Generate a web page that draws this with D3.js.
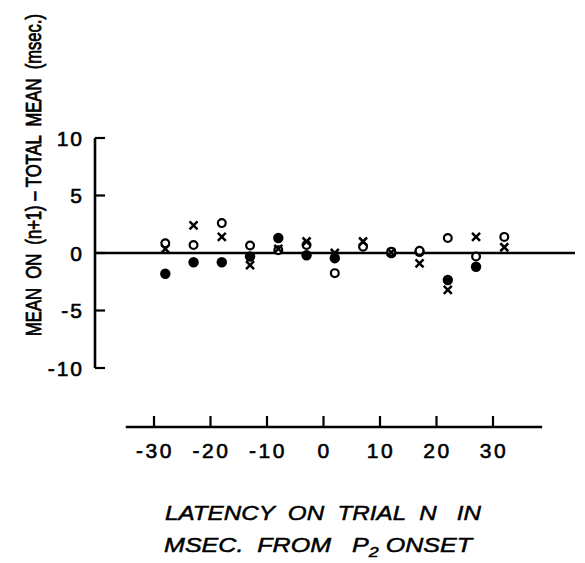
<!DOCTYPE html>
<html>
<head>
<meta charset="utf-8">
<script src="https://cdn.jsdelivr.net/npm/d3@7"></script>
<style>
  body { margin: 0; background: #fff; }
  svg { display: block; }
  text { font-family: "Liberation Sans", Arial, sans-serif; fill: #000; white-space: pre; }
</style>
</head>
<body>
<div id="chart"></div>
<script>
// latency bins on trial n (msec from P2 onset)
const latency = [-28, -23, -18, -13, -8, -3, 2, 7, 12, 17, 22, 27, 32];
// mean on (n+1) - total mean (msec), three series
const openVals   = [0.85, 0.7, 2.6, 0.65, 0.25, 0.7, -1.75, 0.55, 0.1, 0.2, 1.3, -0.3, 1.4];
const filledVals = [-1.8, -0.8, -0.8, -0.3, 1.3, -0.2, -0.45, null, 0.0, 0.1, -2.35, -1.2, null];
const crossVals  = [0.35, 2.4, 1.4, -1.05, 0.35, 1.0, 0.0, 1.0, 0.05, -0.9, -3.2, 1.4, 0.5];
const xTicks = [-30, -20, -10, 0, 10, 20, 30];
const yTicks = [-10, -5, 0, 5, 10];

const width = 585, height = 563;

function drawChart() {
    const svg = d3.select("#chart")
        .append("svg")
        .attr("width", width)
        .attr("height", height);

    const x = d3.scaleLinear().domain([-30, 30]).range([154, 493]);
    const y = d3.scaleLinear().domain([-10, 10]).range([368, 138]);
    const yAxisX = 95;
    const xAxisY = 427;

    // y axis: vertical line with right-pointing ticks
    svg.append("line")
        .attr("x1", yAxisX).attr("x2", yAxisX)
        .attr("y1", y(10)).attr("y2", y(-10))
        .attr("stroke", "#000").attr("stroke-width", 2.6);
    svg.selectAll(".ytick")
        .data(yTicks)
        .enter()
        .append("line")
        .attr("x1", yAxisX).attr("x2", yAxisX + 10)
        .attr("y1", d => y(d)).attr("y2", d => y(d))
        .attr("stroke", "#000").attr("stroke-width", 2.2);
    svg.selectAll(".ylabel")
        .data(yTicks)
        .enter()
        .append("text")
        .attr("x", 84)
        .attr("y", d => y(d))
        .attr("dy", "0.36em")
        .attr("text-anchor", "end")
        .style("font-size", "21px")
        .style("letter-spacing", "2px")
        .attr("stroke", "#000").attr("stroke-width", 0.6)
        .text(d => d < 0 ? "-" + Math.abs(d) : d);

    // zero reference line
    svg.append("line")
        .attr("x1", yAxisX).attr("x2", 575)
        .attr("y1", y(0)).attr("y2", y(0))
        .attr("stroke", "#000").attr("stroke-width", 2.6);

    // separate x axis below, ticks pointing up
    svg.append("line")
        .attr("x1", x(-35)).attr("x2", x(38.7))
        .attr("y1", xAxisY).attr("y2", xAxisY)
        .attr("stroke", "#000").attr("stroke-width", 2.6);
    svg.selectAll(".xtick")
        .data(xTicks)
        .enter()
        .append("line")
        .attr("x1", d => x(d)).attr("x2", d => x(d))
        .attr("y1", xAxisY).attr("y2", xAxisY - 11)
        .attr("stroke", "#000").attr("stroke-width", 2.2);
    svg.selectAll(".xlabel")
        .data(xTicks)
        .enter()
        .append("text")
        .attr("x", d => x(d) + 1)
        .attr("y", 458)
        .attr("text-anchor", "middle")
        .style("font-size", "21px")
        .style("letter-spacing", "2.5px")
        .attr("stroke", "#000").attr("stroke-width", 0.6)
        .text(d => d < 0 ? "-" + Math.abs(d) : d);

    // filled circles
    svg.selectAll(".filled")
        .data(latency.map((l, i) => ({l: l, v: filledVals[i]})).filter(d => d.v !== null))
        .enter()
        .append("circle")
        .attr("cx", d => x(d.l))
        .attr("cy", d => y(d.v))
        .attr("r", 5.2)
        .attr("fill", "#000");

    // open circles
    svg.selectAll(".open")
        .data(latency.map((l, i) => ({l: l, v: openVals[i]})).filter(d => d.v !== null))
        .enter()
        .append("circle")
        .attr("cx", d => x(d.l))
        .attr("cy", d => y(d.v))
        .attr("r", 3.9)
        .attr("fill", "#fff")
        .attr("stroke", "#000")
        .attr("stroke-width", 2.2);

    // crosses
    const s = 4;
    svg.selectAll(".cross")
        .data(latency.map((l, i) => ({l: l, v: crossVals[i]})).filter(d => d.v !== null))
        .enter()
        .append("path")
        .attr("d", d => {
            const cx = x(d.l), cy = y(d.v);
            return `M${cx - s},${cy - s}L${cx + s},${cy + s}M${cx + s},${cy - s}L${cx - s},${cy + s}`;
        })
        .attr("stroke", "#000")
        .attr("stroke-width", 2.5)
        .attr("fill", "none");

    // x title, two lines
    svg.append("text")
        .attr("x", 323).attr("y", 520)
        .attr("text-anchor", "middle")
        .style("font-size", "21px")
        .style("font-style", "italic")
        .attr("stroke", "#000").attr("stroke-width", 0.5)
        .attr("textLength", 316)
        .attr("lengthAdjust", "spacingAndGlyphs")
        .text("LATENCY  ON  TRIAL  N   IN");
    const t2 = svg.append("text")
        .attr("x", 318).attr("y", 552)
        .attr("text-anchor", "middle")
        .style("font-size", "21px")
        .style("font-style", "italic")
        .attr("stroke", "#000").attr("stroke-width", 0.5)
        .attr("textLength", 308)
        .attr("lengthAdjust", "spacingAndGlyphs");
    t2.append("tspan").text("MSEC.  FROM   P");
    t2.append("tspan").attr("dy", 5).style("font-size", "15px").text("2");
    t2.append("tspan").attr("dy", -5).text(" ONSET");

    // y title, rotated
    svg.append("text")
        .attr("transform", "translate(41, 175) rotate(-90)")
        .attr("text-anchor", "middle")
        .style("font-size", "22px")
        .attr("stroke", "#000").attr("stroke-width", 0.8)
        .attr("textLength", 322)
        .attr("lengthAdjust", "spacingAndGlyphs")
        .text("MEAN  ON  (n+1) – TOTAL  MEAN  (msec.)");
}

drawChart();
</script>
</body>
</html>
